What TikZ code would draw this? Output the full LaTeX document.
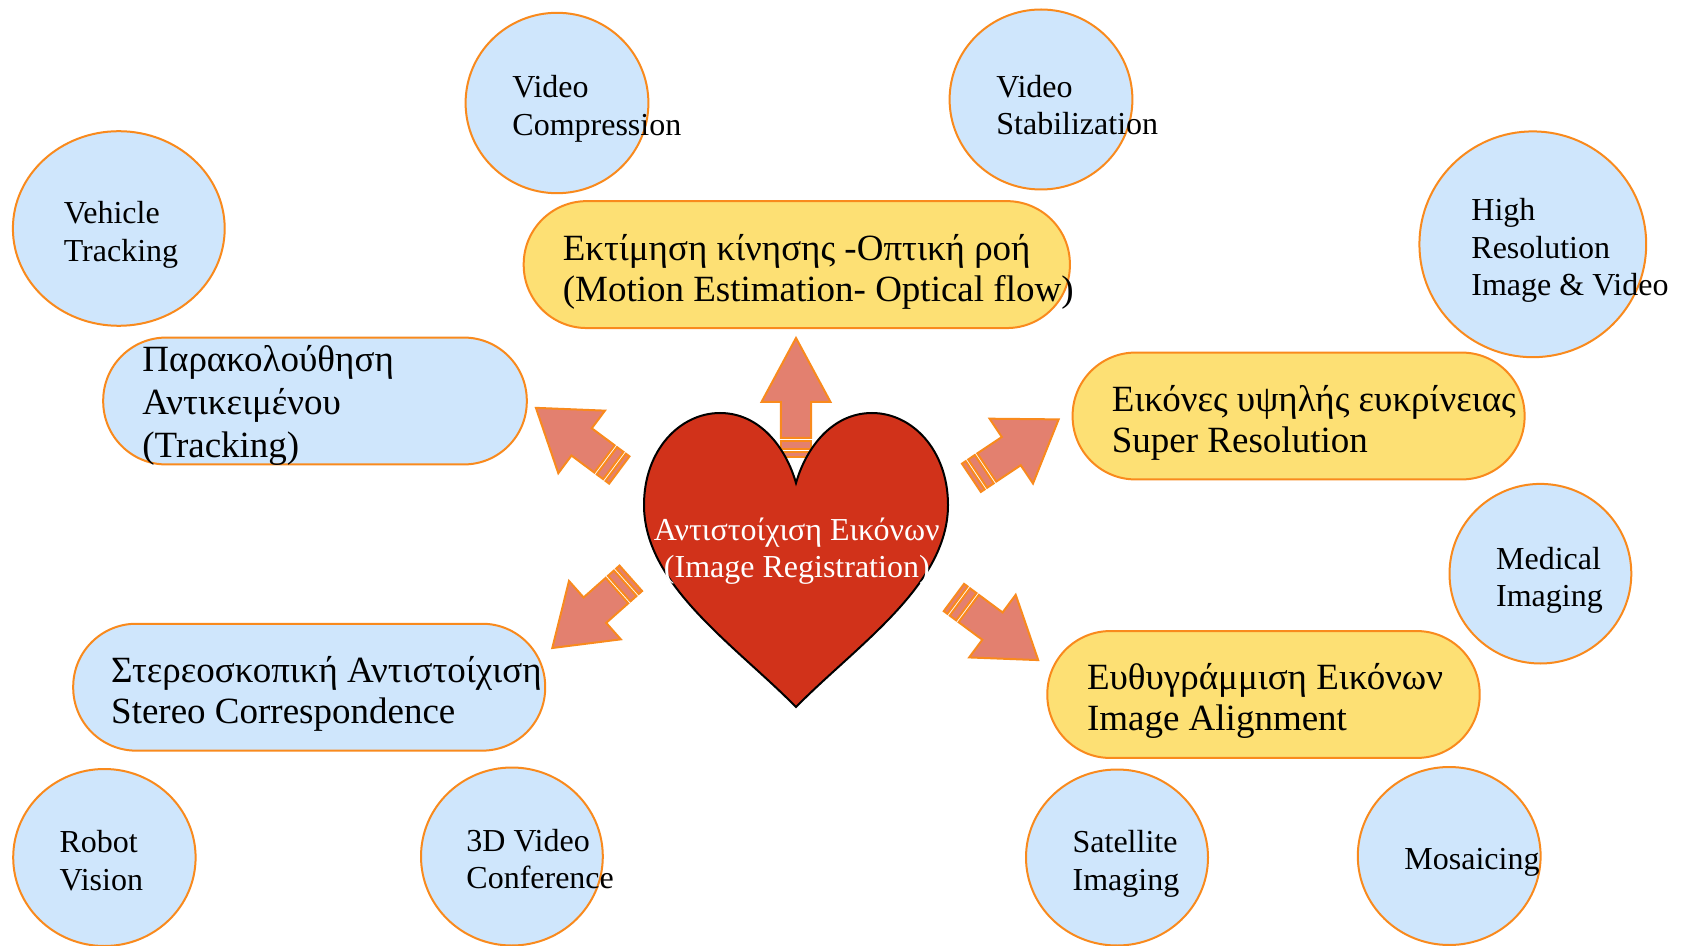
\documentclass[tikz,border=0pt]{standalone}
\usepackage{fontspec}
\setmainfont{Liberation Serif}
\usetikzlibrary{shapes.geometric}
\definecolor{bluefill}{HTML}{CFE6FC}
\definecolor{yelfill}{HTML}{FDE074}
\definecolor{orng}{HTML}{F98A1D}
\definecolor{salmon}{HTML}{E3806F}
\definecolor{heartred}{HTML}{D1321A}
\tikzset{
 ell/.style={ellipse, draw=orng, fill=bluefill, line width=1pt, inner sep=0pt},
 bluebox/.style={rectangle, rounded corners=31.5pt, draw=orng, fill=bluefill, line width=1pt, minimum height=63.45pt, inner sep=0pt},
 yelbox/.style={bluebox, fill=yelfill},
 smalltxt/.style={inner sep=0pt, anchor=west, align=left, font=\fontsize{16}{18.8}\selectfont},
 bigtxt/.style={inner sep=0pt, anchor=west, align=left, font=\fontsize{18.5}{20.6}\selectfont},
 arrowpart/.style={draw=orng, fill=salmon, line width=1pt, line join=miter},
 hearttxt/.style={inner sep=0pt, align=center, text=white, font=\fontsize{16}{18.5}\selectfont},
}
% #1 tail coordinate name, #2 angle, #3 length, #4 head length, #5 head half width, #6 shaft half width
\newcommand\sarrow[6]{%
 \begin{scope}[shift={(#1)}, rotate=#2]
  \draw[arrowpart] (0,-#6) rectangle (4.5,#6);
  \draw[arrowpart] (7.5,-#6) rectangle (15.5,#6);
  \draw[arrowpart] (18.5,-#6) -- ({#3-#4},-#6) -- ({#3-#4},-#5) -- (#3,0) -- ({#3-#4},#5) -- ({#3-#4},#6) -- (18.5,#6) -- cycle;
 \end{scope}}
\begin{document}
\begin{tikzpicture}[x=0.5pt, y=-0.5pt]
\fill[white] (0,0) rectangle (1686,946);
\useasboundingbox (0,0) rectangle (1686,946);

% ellipses
\node[ell, minimum width=91.4pt, minimum height=90.2pt] (vcomp) at (557,103) {};
\node[ell, minimum width=91.4pt, minimum height=90pt] (vstab) at (1041,99.5) {};
\node[ell, minimum width=105.9pt, minimum height=97.3pt] (vehicle) at (118.8,228.5) {};
\node[ell, minimum width=113.4pt, minimum height=112.9pt] (hires) at (1532.8,244.3) {};
\node[ell, minimum width=90.9pt, minimum height=89.8pt] (medical) at (1540.4,573.7) {};
\node[ell, minimum width=91.2pt, minimum height=88.5pt] (robot) at (104.4,857.5) {};
\node[ell, minimum width=90.9pt, minimum height=89pt] (conf) at (511.9,856.5) {};
\node[ell, minimum width=91pt, minimum height=88pt] (sat) at (1117,857.5) {};
\node[ell, minimum width=91.4pt, minimum height=89pt] (mosaic) at (1449.2,856) {};

\node[smalltxt] (vcompT) at (512,109) {Video\\Compression};
\node[smalltxt] (vstabT) at (996,105) {Video\\Stabilization};
\node[smalltxt] (vehicleT) at (63.4,235) {Vehicle\\Tracking};
\node[smalltxt] (hiresT) at (1471,250.5) {High\\Resolution\\Image \& Video};
\node[smalltxt] (medicalT) at (1495.7,580.4) {Medical\\Imaging};
\node[smalltxt] (robotT) at (59.2,860.8) {Robot\\Vision};
\node[smalltxt] (confT) at (466,859) {3D Video\\Conference};
\node[smalltxt] (satT) at (1072.2,864) {Satellite\\Imaging};
\node[smalltxt] (mosaicT) at (1404,862.5) {Mosaicing};

% rounded boxes
\node[yelbox, minimum width=273.1pt] (motion) at (796.8,264.6) {};
\node[bluebox, minimum width=211.8pt] (track) at (315,401) {};
\node[yelbox, minimum width=226pt] (superres) at (1298.6,416) {};
\node[bluebox, minimum width=236pt] (stereo) at (309.2,687.2) {};
\node[yelbox, minimum width=216.2pt] (align) at (1263.5,694.5) {};

\node[bigtxt] (motionT) at (562.4,271.7) {Εκτίμηση κίνησης -Οπτική ροή\\(Motion Estimation- Optical flow)};
\node[bigtxt, font=\fontsize{18.5}{21.6}\selectfont] (trackT) at (142,405.4) {Παρακολούθηση\\Αντικειμένου\\(Tracking)};
\node[bigtxt] (superresT) at (1111.5,423) {Εικόνες υψηλής ευκρίνειας\\Super Resolution};
\node[bigtxt] (stereoT) at (110.8,693.8) {Στερεοσκοπική Αντιστοίχιση\\Stereo Correspondence};
\node[bigtxt] (alignT) at (1086.6,701) {Ευθυγράμμιση Εικόνων\\Image Alignment};

% striped block arrows (tails)
\coordinate (tUp) at (796,456.5);
\coordinate (tLU) at (619.3,470);
\coordinate (tRU) at (971.4,477.8);
\coordinate (tLD) at (630.8,578.3);
\coordinate (tRD) at (953.9,597.5);
\sarrow{tUp}{90}{118.5}{64}{34.5}{15.2}
\sarrow{tLU}{143.3}{104}{57}{39}{17}
\sarrow{tRU}{33.8}{105}{57}{39}{17}
\sarrow{tLD}{221.6}{105}{57}{39}{17}
\sarrow{tRD}{-36.6}{105}{57}{39}{17}

% heart
\draw[fill=heartred, draw=black, line width=1pt]
 (796,707) .. controls (735,645) and (644,585) .. (644,505)
 .. controls (644,450) and (680,413) .. (720,413)
 .. controls (760,413) and (786,448) .. (796,483)
 .. controls (806,448) and (832,413) .. (872,413)
 .. controls (912,413) and (948,450) .. (948,505)
 .. controls (948,585) and (857,645) .. (796,707) -- cycle;
\node[hearttxt] (reg) at (796.8,551) {Αντιστοίχιση Εικόνων\\(Image Registration)};
\end{tikzpicture}
\end{document}
